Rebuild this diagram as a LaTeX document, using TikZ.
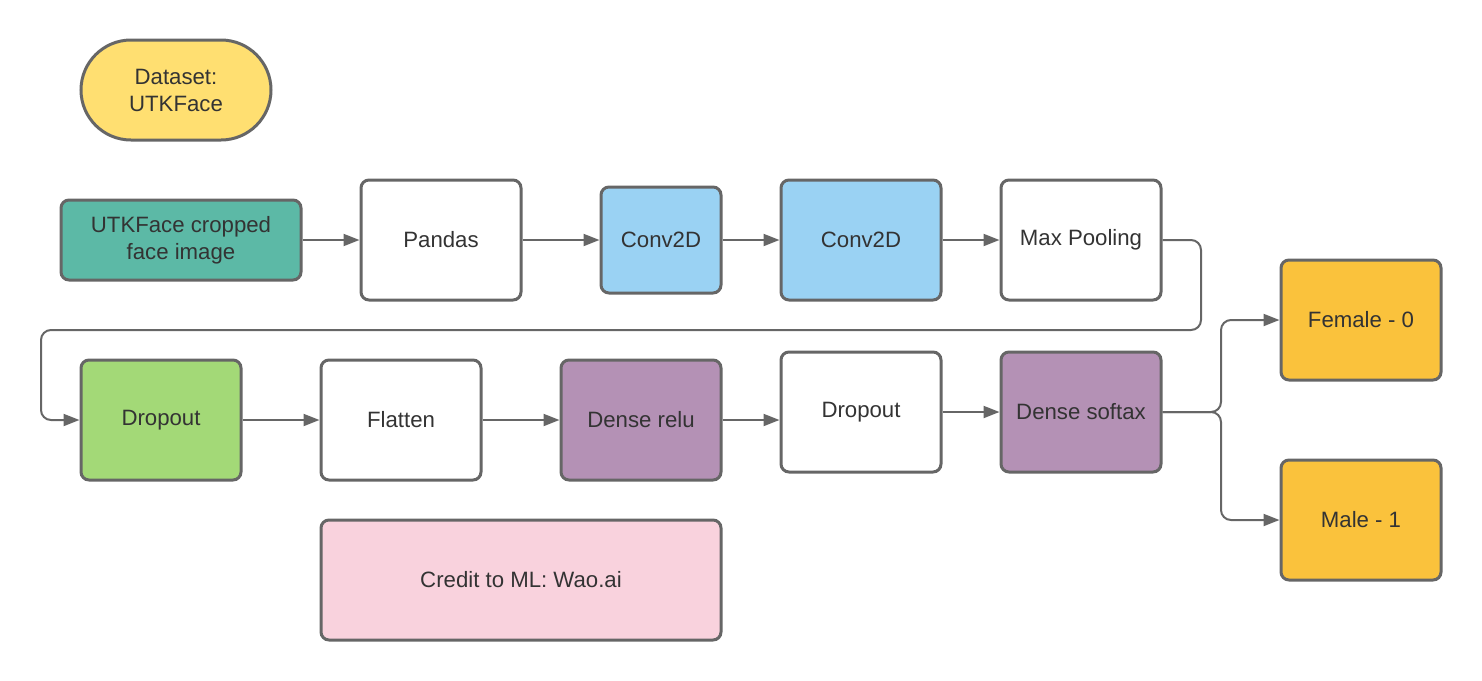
\documentclass[tikz,border=0pt]{standalone}
\usepackage{fontspec}
\setmainfont{Liberation Sans}
\usetikzlibrary{arrows.meta}
\definecolor{bord}{HTML}{666666}
\definecolor{txt}{HTML}{333333}
\definecolor{cyel}{HTML}{FFDF71}
\definecolor{cteal}{HTML}{5CB9A6}
\definecolor{cblue}{HTML}{9AD2F3}
\definecolor{cgreen}{HTML}{A3D977}
\definecolor{cpurp}{HTML}{B491B5}
\definecolor{corange}{HTML}{FAC23C}
\definecolor{cpink}{HTML}{F9D2DD}
\tikzset{
  box/.style={draw=bord, line width=1.5pt, rounded corners=4pt, inner sep=0pt,
    minimum width=80pt, minimum height=60pt, text=txt, align=center,
    font=\fontsize{11.1}{13.5}\selectfont},
  arr/.style={draw=bord, line width=1pt, -{Triangle[length=8pt,width=6pt]}},
}
\begin{document}
\begin{tikzpicture}[x=0.5pt,y=-0.5pt]
\useasboundingbox (0,0) rectangle (1482,680);
\node[box, fill=cyel, rounded corners=25pt, minimum width=95pt, minimum height=50pt] (ds0) at (176,90) {Dataset:\\UTKFace};
\node[box, fill=cteal, minimum width=120pt, minimum height=40pt] (utk) at (181,240) {UTKFace cropped\\face image};
\node[box, fill=white] (pd) at (441,240) {Pandas};
\node[box, fill=cblue, minimum width=60pt, minimum height=53pt] (cv1) at (661,240) {Conv2D};
\node[box, fill=cblue] (cv2) at (861,240) {Conv2D};
\node[box, fill=white] (mp) at (1081,240) {Max Pooling};
\node[box, fill=cgreen] (dr1) at (161,420) {Dropout};
\node[box, fill=white] (fl) at (401,420) {Flatten};
\node[box, fill=cpurp] (dre) at (641,420) {Dense relu};
\node[box, fill=white] (dr2) at (861,412) {Dropout};
\node[box, fill=cpurp] (dso) at (1081,412) {Dense softax};
\node[box, fill=corange] (fem) at (1361,320) {Female - 0};
\node[box, fill=corange] (mal) at (1361,520) {Male - 1};
\node[box, fill=cpink, minimum width=200pt] (cr) at (521,580) {Credit to ML: Wao.ai};
\coordinate (k1) at (1201,330);
\coordinate (k2) at (41,420);
\coordinate (br) at (1221,412);
\draw[arr] (utk) -- (pd);
\draw[arr] (pd) -- (cv1);
\draw[arr] (cv1) -- (cv2);
\draw[arr] (cv2) -- (mp);
\draw[arr, rounded corners=5pt] (mp.east) -| (k1) -| (k2) -- (dr1.west);
\draw[arr] (dr1) -- (fl);
\draw[arr] (fl) -- (dre);
\draw[arr] (dre.east) -- (dre.east -| dr2.west);
\draw[arr] (dr2) -- (dso);
\draw[arr, rounded corners=5pt] (dso.east) -- (br) |- (fem.west);
\draw[arr, rounded corners=5pt] (dso.east) -- (br) |- (mal.west);
\end{tikzpicture}
\end{document}
